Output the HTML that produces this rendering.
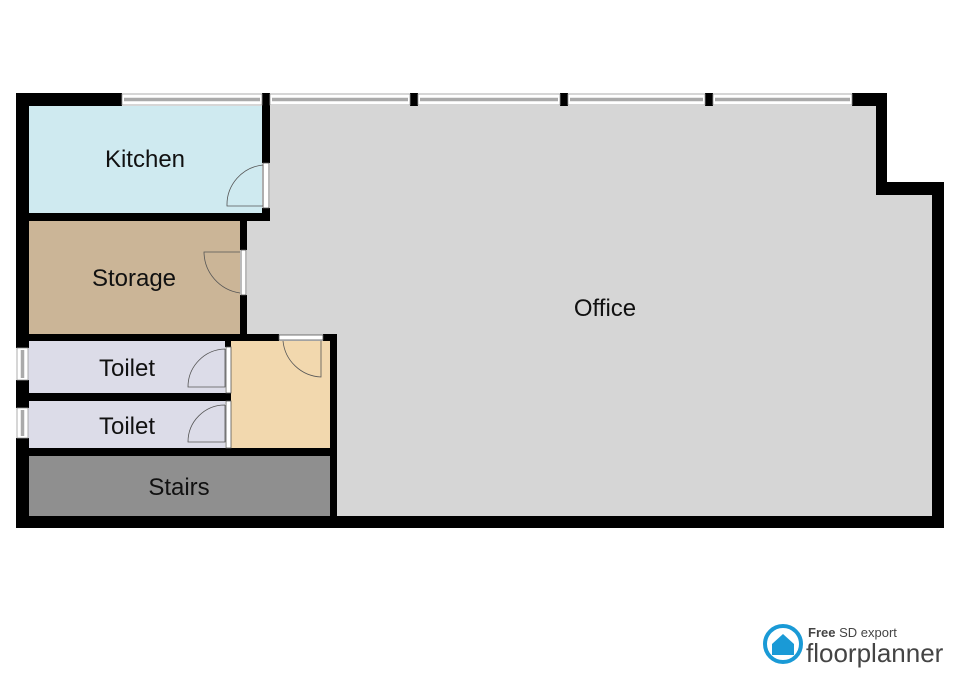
<!DOCTYPE html>
<html><head><meta charset="utf-8"><style>
html,body{margin:0;padding:0;background:#fff;width:960px;height:679px;overflow:hidden}
svg{display:block}
text{font-family:"Liberation Sans",Arial,sans-serif;fill:#111}
</style></head><body>
<svg width="960" height="679" viewBox="0 0 960 679" xmlns="http://www.w3.org/2000/svg">
<polygon points="262,106 876,106 876,195 932,195 932,516 330,516 330,341 247,341 247,221 270,221 270,106" fill="#d6d6d6"/>
<rect x="28" y="106" width="234" height="107" fill="#cfeaf0"/>
<rect x="28" y="221" width="212" height="113" fill="#cbb597"/>
<rect x="28" y="341" width="197" height="52" fill="#dcdce8"/>
<rect x="28" y="401" width="197" height="47" fill="#dcdce8"/>
<rect x="231" y="341" width="99" height="107" fill="#f2d8ae"/>
<rect x="28" y="456" width="302" height="60" fill="#8f8f8f"/>
<g fill="#000">
<rect x="16" y="93" width="106" height="13"/>
<rect x="16" y="93" width="13" height="255"/>
<rect x="16" y="380" width="13" height="28"/>
<rect x="16" y="438" width="13" height="90"/>
<rect x="16" y="516" width="928" height="12"/>
<rect x="932" y="182" width="12" height="346"/>
<rect x="876" y="182" width="68" height="13"/>
<rect x="852" y="93" width="35" height="13"/>
<rect x="876" y="93" width="11" height="102"/>
<rect x="262" y="93" width="8" height="70"/>
<rect x="262" y="208" width="8" height="13"/>
<rect x="16" y="213" width="254" height="8"/>
<rect x="240" y="213" width="7" height="37"/>
<rect x="240" y="295" width="7" height="46"/>
<rect x="16" y="334" width="263" height="7"/>
<rect x="323" y="334" width="14" height="7"/>
<rect x="330" y="334" width="7" height="190"/>
<rect x="225" y="341" width="6" height="6"/>
<rect x="16" y="393" width="215" height="8"/>
<rect x="16" y="448" width="321" height="8"/>
<rect x="410" y="93" width="8" height="13"/>
<rect x="560" y="93" width="8" height="13"/>
<rect x="705" y="93" width="8" height="13"/>
</g>
<g fill="#fff" stroke="#999" stroke-width="0.8">
<rect x="122" y="94" width="140" height="11"/>
<rect x="270" y="94" width="140" height="11"/>
<rect x="418" y="94" width="142" height="11"/>
<rect x="568" y="94" width="137" height="11"/>
<rect x="713" y="94" width="139" height="11"/>
<rect x="17" y="348" width="11" height="32"/>
<rect x="17" y="408" width="11" height="30"/>
</g>
<g stroke="#aaa" stroke-width="3.5">
<line x1="124" y1="99.5" x2="260" y2="99.5"/><line x1="272" y1="99.5" x2="408" y2="99.5"/>
<line x1="420" y1="99.5" x2="558" y2="99.5"/><line x1="570" y1="99.5" x2="703" y2="99.5"/>
<line x1="715" y1="99.5" x2="850" y2="99.5"/>
<line x1="22.5" y1="350" x2="22.5" y2="378"/><line x1="22.5" y1="410" x2="22.5" y2="436"/>
</g>
<g fill="none" stroke="#555" stroke-width="0.8">
<rect x="263" y="163" width="6" height="45" fill="#fff"/>
<path d="M263,165 L263,206 L227,206 A40,40 0 0 1 263,165"/>
<rect x="241" y="250" width="5" height="45" fill="#fff"/>
<path d="M240,252 L204,252 A42,42 0 0 0 240,293"/>
<rect x="279" y="335" width="44" height="5" fill="#fff"/>
<path d="M321,341 L321,377 A40,40 0 0 1 283,341"/>
<rect x="226" y="347" width="5" height="46" fill="#fff"/>
<path d="M225,349 L225,387 L188,387 A38,38 0 0 1 225,349"/>
<rect x="226" y="401" width="5" height="47" fill="#fff"/>
<path d="M225,405 L225,442 L188,442 A37,37 0 0 1 225,405"/>
</g>
<g font-size="24" text-anchor="middle">
<text x="145" y="167">Kitchen</text>
<text x="134" y="286">Storage</text>
<text x="127" y="376">Toilet</text>
<text x="127" y="434">Toilet</text>
<text x="179" y="495">Stairs</text>
<text x="605" y="316">Office</text>
</g>
<circle cx="783" cy="644" r="18" fill="none" stroke="#1a9ad6" stroke-width="4"/>
<polygon points="772,644 783,634 794,644 794,655 772,655" fill="#1a9ad6"/>
<text x="808" y="637" font-size="13" style="fill:#444"><tspan font-weight="bold">Free</tspan> SD export</text>
<text x="806" y="662" font-size="26" style="fill:#444">floorplanner</text>
</svg>
</body></html>
